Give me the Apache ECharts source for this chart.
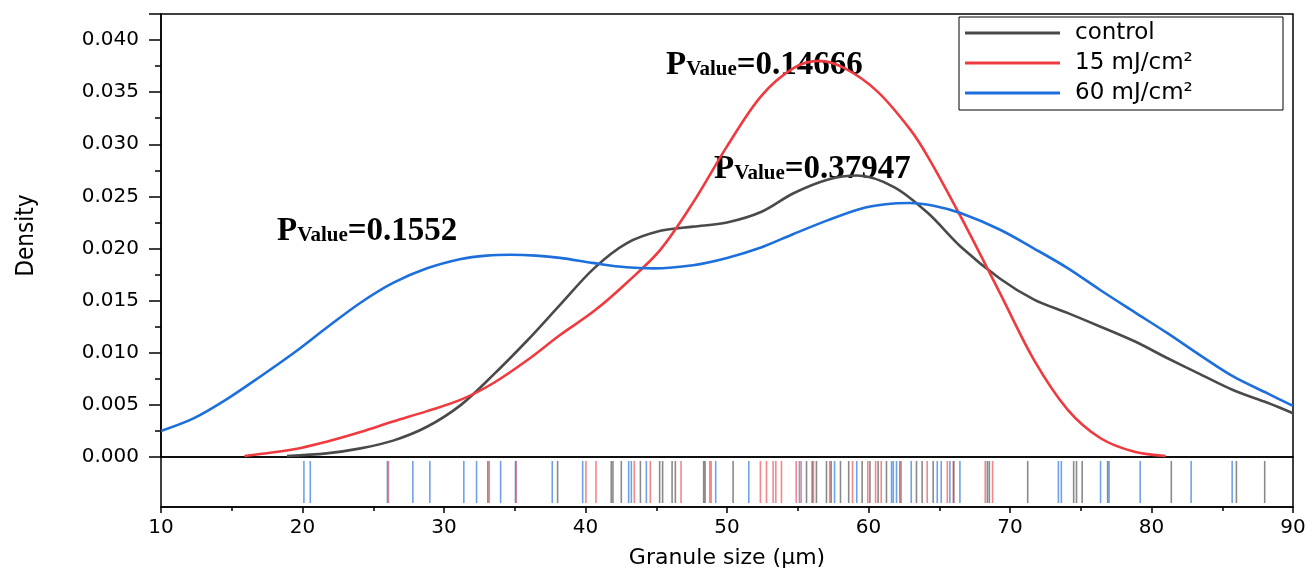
<!DOCTYPE html>
<html lang="en">
<head>
    <meta charset="UTF-8">
    <title>Granule size density</title>
    <script src="https://cdn.jsdelivr.net/npm/echarts@6/dist/echarts.min.js"></script>
    <style>
        html, body { margin: 0; padding: 0; background: #fff; }
        #main { width: 1311px; height: 570px; }
    </style>
</head>
<body>
<div id="main"></div>
<script>
    // density curves: [granule size, density]
    var controlCurve = [[18.9, 0.0001], [21.7, 0.00035], [24.1, 0.00083], [26.4, 0.00157], [28.8, 0.0029],
        [31.2, 0.005], [33.5, 0.0079], [35.9, 0.0112], [38.2, 0.0146], [40.6, 0.0181], [42.9, 0.0205],
        [45.3, 0.0217], [47.6, 0.0221], [50.0, 0.0225], [52.4, 0.0235], [54.7, 0.0253], [57.1, 0.0266],
        [59.2, 0.0270], [61.8, 0.0259], [64.2, 0.0234], [66.5, 0.0202], [69.3, 0.0171], [71.7, 0.0151],
        [74.1, 0.0138], [76.4, 0.0125], [78.8, 0.0111], [81.1, 0.0095], [83.5, 0.0079], [85.8, 0.0064],
        [88.2, 0.0052], [90, 0.0042]];
    var mj15Curve = [[15.9, 0.0001], [19.4, 0.00074], [21.7, 0.00147], [24.1, 0.0024],
        [26.4, 0.0034], [28.8, 0.0044], [31.2, 0.0055], [33.5, 0.0071], [35.9, 0.0093], [38.2, 0.0117],
        [40.6, 0.0140], [42.9, 0.0167], [45.3, 0.0199], [47.6, 0.0244], [50.0, 0.0298], [52.4, 0.0346],
        [54.7, 0.0373], [56.5, 0.0380], [58.3, 0.0373], [60.6, 0.0351], [62.9, 0.0315], [64.2, 0.0288],
        [66.5, 0.0231], [69.3, 0.0157], [71.7, 0.0093], [74.1, 0.0045],
        [76.4, 0.0018], [78.8, 0.0005], [81.0, 0.0001]];
    var mj60Curve = [[10, 0.0025], [12.3, 0.0037], [14.6, 0.0055], [17.0, 0.0077], [19.4, 0.0100],
        [21.7, 0.0124], [24.1, 0.0148], [26.4, 0.0167], [28.8, 0.0181], [31.2, 0.0190], [33.0, 0.01932],
        [34.7, 0.0194], [36.5, 0.01932], [38.2, 0.0191], [40.6, 0.0186], [42.9, 0.0182], [44.8, 0.0181],
        [47.6, 0.0184], [50.0, 0.0191], [52.4, 0.0201], [54.7, 0.0214], [57.1, 0.0227], [59.4, 0.0238],
        [61.2, 0.02425], [62.9, 0.02437], [64.6, 0.0241], [66.5, 0.0234], [69.3, 0.0218], [71.7, 0.0200],
        [74.1, 0.0181], [76.4, 0.0160], [78.8, 0.0139], [81.1, 0.0119], [83.5, 0.0097], [85.8, 0.0077],
        [88.2, 0.0061], [90, 0.0049]];

    // rug: individual granule sizes
    var controlRug = [33.1, 38.03, 41.82, 41.94, 42.53, 43.88, 45.24, 45.45, 46.12, 46.35, 48.35, 48.45,
        50.43, 55.62, 56.02, 56.32, 57.03, 57.36, 58.02, 58.6, 59.55, 60.1, 60.68, 61.27, 62.22, 63.39,
        63.79, 64.57, 66.03, 68.4, 68.54, 71.25, 74.5, 74.7, 75.1, 76.9, 81.4, 86.0, 88.0];
    var mj15Rug = [26.07, 33.2, 35.1, 40.03, 40.74, 43.45, 44.58, 46.75, 48.78, 48.88, 52.36, 52.79,
        53.26, 53.45, 53.85, 54.89, 55.24, 56.11, 57.26, 58.87, 59.95, 60.5, 60.9, 62.31, 64.15, 65.57,
        65.99, 68.25, 68.77];
    var mj60Rug = [20.1, 20.55, 26.0, 27.8, 29.0, 31.4, 32.3, 34.0, 35.05, 37.65, 39.8, 43.05, 43.24,
        44.3, 49.2, 51.54, 55.12, 57.6, 59.17, 61.63, 61.75, 61.98, 63.02, 64.86, 65.14, 65.75, 66.46,
        73.42, 73.63, 76.4, 77.0, 79.2, 82.8, 85.7];

    var seriesNames = ['control', '15 mJ/cm²', '60 mJ/cm²'];
    var pValues = ['0.1552', '0.14666', '0.37947'];

    var colors = ['#4a4a4a', '#ef3b40', '#1d6fdc'];
    var rugColors = ['rgba(60,60,60,0.75)', 'rgba(238,55,60,0.75)', 'rgba(30,110,220,0.8)'];
    var font = '"DejaVu Sans", "Liberation Sans", sans-serif';

    function toRug(arr) {
        return arr.map(function (v) { return [v, 0.5]; });
    }

    function pText(val, x, y) {
        return {
            type: 'text',
            left: x,
            top: y,
            style: {
                text: '{p|P}{s|Value}{p|=' + val + '}',
                rich: {
                    p: { fontFamily: '"Liberation Serif", serif', fontWeight: 'bold', fontSize: 33, lineHeight: 35, fill: '#000' },
                    s: { fontFamily: '"Liberation Serif", serif', fontWeight: 'bold', fontSize: 21, lineHeight: 35, fill: '#000', padding: [8, 0, 0, 0] }
                }
            }
        };
    }

    function curve(i, data) {
        return {
            name: seriesNames[i], type: 'line', xAxisIndex: 0, yAxisIndex: 0, data: data,
            smooth: 0.33, showSymbol: false, symbol: 'none',
            lineStyle: { width: 2.6, color: colors[i] }, itemStyle: { color: colors[i] }, z: 3
        };
    }

    function rug(i, arr) {
        return {
            type: 'scatter', xAxisIndex: 1, yAxisIndex: 1, data: toRug(arr),
            symbol: 'rect', symbolSize: [1.6, 42], itemStyle: { color: rugColors[i] }, silent: true
        };
    }

    var chartDom = document.getElementById('main');
    var myChart = echarts.init(chartDom);
    var option;

    option = {
        animation: false,
        backgroundColor: '#fff',
        color: colors,
        grid: [
            { left: 161, right: 18, top: 14, height: 443, show: true, borderColor: '#000', borderWidth: 1.5 },
            { left: 161, right: 18, top: 457, height: 51, show: true, borderColor: '#000', borderWidth: 1.5 }
        ],
        legend: {
            data: seriesNames,
            orient: 'vertical',
            left: 959,
            top: 17,
            icon: 'rect',
            itemWidth: 95,
            itemHeight: 3,
            itemGap: 6,
            padding: [4, 10, 5, 6],
            borderColor: '#000',
            borderWidth: 1,
            backgroundColor: '#fff',
            textStyle: { fontFamily: font, fontSize: 23, lineHeight: 24, color: '#000', width: 198, padding: [0, 0, 0, 10] }
        },
        xAxis: [
            {
                gridIndex: 0, type: 'value', min: 10, max: 90, interval: 10,
                axisLine: { show: false }, axisTick: { show: false }, axisLabel: { show: false },
                splitLine: { show: false }
            },
            {
                gridIndex: 1, type: 'value', min: 10, max: 90, interval: 10,
                name: 'Granule size (μm)', nameLocation: 'middle', nameGap: 40,
                nameTextStyle: { fontFamily: font, fontSize: 22, color: '#000' },
                axisLine: { lineStyle: { color: '#000', width: 1.5 } },
                axisTick: { length: 6, lineStyle: { color: '#000', width: 1.5 } },
                minorTick: { show: true, splitNumber: 2, length: 4, lineStyle: { color: '#000', width: 1.5 } },
                axisLabel: { fontFamily: font, fontSize: 20, color: '#000', margin: 11 },
                splitLine: { show: false }
            }
        ],
        yAxis: [
            {
                gridIndex: 0, type: 'value', min: 0, max: 0.0425, interval: 0.005,
                name: 'Density', nameLocation: 'middle', nameGap: 122, nameRotate: 90,
                nameTextStyle: { fontFamily: '"Liberation Sans Narrow", "DejaVu Sans Condensed", sans-serif', fontSize: 24, color: '#000' },
                axisLine: { show: true, lineStyle: { color: '#000', width: 1.5 } },
                axisTick: { length: 12, lineStyle: { color: '#000', width: 1.5 } },
                minorTick: { show: true, splitNumber: 2, length: 6, lineStyle: { color: '#000', width: 1.5 } },
                axisLabel: {
                    fontFamily: font, fontSize: 20, color: '#000', margin: 22, showMaxLabel: false,
                    formatter: function (v) { return v.toFixed(3); }
                },
                splitLine: { show: false }
            },
            {
                gridIndex: 1, type: 'value', min: 0, max: 1,
                axisLine: { show: false }, axisTick: { show: false }, axisLabel: { show: false },
                splitLine: { show: false }
            }
        ],
        series: [
            curve(0, controlCurve),
            curve(1, mj15Curve),
            curve(2, mj60Curve),
            rug(0, controlRug),
            rug(1, mj15Rug),
            rug(2, mj60Rug)
        ],
        graphic: [
            pText(pValues[0], 277, 215),
            pText(pValues[1], 666, 49),
            pText(pValues[2], 714, 153)
        ]
    };

    option && myChart.setOption(option);
</script>
</body>
</html>
